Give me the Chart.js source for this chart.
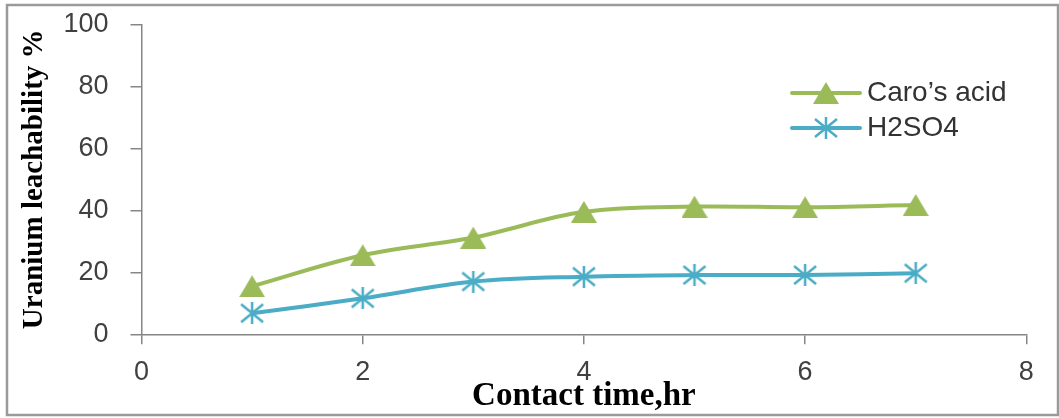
<!DOCTYPE html>
<html>
<head>
<meta charset="utf-8">
<script src="https://cdn.jsdelivr.net/npm/chart.js@4.4.0/dist/chart.umd.min.js"></script>
<style>
  html, body { margin: 0; padding: 0; background: #fff; }
  #wrap { position: relative; width: 1059px; height: 418px; }
</style>
</head>
<body>
<div id="wrap"><canvas id="chart"></canvas></div>
<script>
// Values
const contactTime = [1, 2, 3, 4, 5, 6, 7];
const carosAcid = [15.5, 25.5, 31.2, 39.5, 41.2, 41.0, 41.7];
const h2so4 = [6.8, 11.6, 17.0, 18.6, 19.1, 19.1, 19.7];
const xTicks = [0, 2, 4, 6, 8];
const yTicks = [0, 20, 40, 60, 80, 100];
const seriesNames = ['Caro’s acid', 'H2SO4'];

const GREEN = '#9bbb59';
const BLUE = '#4bacc6';
const AXIS = '#868686';
const SANS = '"Liberation Sans", Arial, sans-serif';
const SERIF = '"Liberation Serif", "Times New Roman", serif';

// Excel-like markers, centred on the point
function makeTriangle(color) {
    const c = document.createElement('canvas');
    c.width = 26; c.height = 22;
    const g = c.getContext('2d');
    g.fillStyle = color;
    g.beginPath();
    g.moveTo(13, 0); g.lineTo(26, 22); g.lineTo(0, 22);
    g.closePath();
    g.fill();
    return c;
}

function makeStar(color) {
    const c = document.createElement('canvas');
    c.width = 26; c.height = 22;
    const g = c.getContext('2d');
    g.strokeStyle = color;
    g.lineWidth = 2.5;
    g.beginPath();
    g.moveTo(13, 0); g.lineTo(13, 22);
    g.moveTo(2, 2); g.lineTo(24, 20);
    g.moveTo(24, 2); g.lineTo(2, 20);
    g.stroke();
    return c;
}

const toPoints = (ys) => contactTime.map((x, i) => ({ x: x, y: ys[i] }));

// outer frame
const framePlugin = {
    id: 'frame',
    beforeDraw(chart) {
        const ctx = chart.ctx;
        ctx.save();
        ctx.strokeStyle = '#9a9a9a';
        ctx.lineWidth = 2.5;
        ctx.strokeRect(7, 5, 1051, 410);
        ctx.restore();
    }
};

// legend inside the plot, right side
const legendPos = { x1: 792, x2: 860, textX: 867, rows: [93, 128] };
const legendPlugin = {
    id: 'insideLegend',
    afterDatasetsDraw(chart) {
        const ctx = chart.ctx;
        chart.data.datasets.forEach((ds, i) => {
            const y = legendPos.rows[i];
            ctx.save();
            ctx.strokeStyle = ds.borderColor;
            ctx.lineWidth = ds.borderWidth;
            ctx.lineCap = 'round';
            ctx.beginPath();
            ctx.moveTo(legendPos.x1, y);
            ctx.lineTo(legendPos.x2, y);
            ctx.stroke();
            const img = ds.pointStyle;
            const mid = (legendPos.x1 + legendPos.x2) / 2;
            ctx.drawImage(img, mid - img.width / 2, y - img.height / 2);
            ctx.fillStyle = '#333';
            ctx.font = '28px ' + SANS;
            ctx.textBaseline = 'middle';
            ctx.fillText(ds.label, legendPos.textX, y);
            ctx.restore();
        });
    }
};

new Chart(document.getElementById('chart'), {
    type: 'line',
    data: {
        datasets: [
            {
                label: seriesNames[0],
                data: toPoints(carosAcid),
                borderColor: GREEN,
                backgroundColor: GREEN,
                borderWidth: 4,
                tension: 0.35,
                pointStyle: makeTriangle(GREEN),
                pointRadius: 12
            },
            {
                label: seriesNames[1],
                data: toPoints(h2so4),
                borderColor: BLUE,
                backgroundColor: BLUE,
                borderWidth: 4,
                tension: 0.35,
                pointStyle: makeStar(BLUE),
                pointRadius: 12
            }
        ]
    },
    options: {
        responsive: true,
        maintainAspectRatio: false,
        animation: false,
        layout: { padding: { left: 10, top: 24.3, right: 32.7, bottom: 0 } },
        plugins: {
            legend: { display: false },
            tooltip: { enabled: false }
        },
        scales: {
            x: {
                type: 'linear',
                min: 0,
                max: 8,
                afterBuildTicks: (s) => { s.ticks = xTicks.map(v => ({ value: v })); },
                afterFit: (s) => { s.height = 83.7; },
                grid: { drawOnChartArea: false, drawTicks: true, tickLength: 10, color: AXIS, lineWidth: 1.5 },
                border: { color: AXIS, width: 1.5 },
                ticks: { color: '#404040', font: { family: SANS, size: 27 }, padding: 12 },
                title: {
                    display: true,
                    text: 'Contact time,hr',
                    color: '#000',
                    font: { family: SERIF, size: 33, weight: 'bold' },
                    padding: { top: 0, bottom: 2 }
                }
            },
            y: {
                min: 0,
                max: 100,
                afterBuildTicks: (s) => { s.ticks = yTicks.map(v => ({ value: v })); },
                afterFit: (s) => {
                    s.width = 131.5;
                    // label padding would otherwise push the plot top down
                    s.paddingTop = 0;
                    s.paddingBottom = 0;
                },
                grid: { drawOnChartArea: false, drawTicks: true, tickLength: 11, color: AXIS, lineWidth: 1.5 },
                border: { color: AXIS, width: 1.5 },
                ticks: { color: '#404040', font: { family: SANS, size: 27 }, padding: 22 },
                title: {
                    display: true,
                    text: 'Uranium leachability %',
                    color: '#000',
                    font: { family: SERIF, size: 29, weight: 'bold' },
                    padding: { top: 7, bottom: 0 }
                }
            }
        }
    },
    plugins: [framePlugin, legendPlugin]
});
</script>
</body>
</html>
